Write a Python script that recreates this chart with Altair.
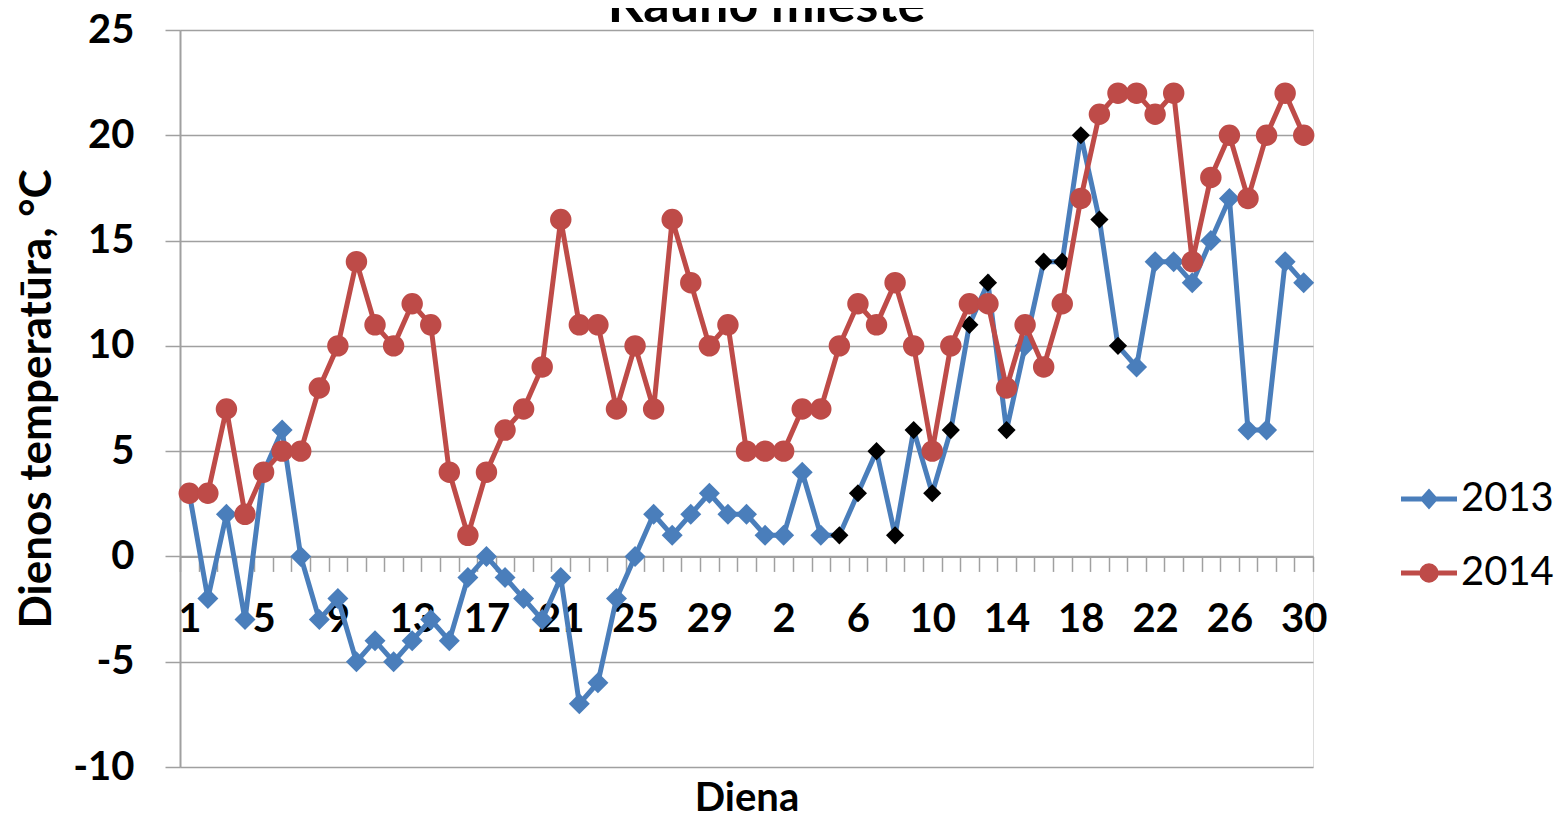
import json
import altair as alt
import pandas as pd

# ---------------- data ----------------
march_days = [str(d) for d in range(1, 32)]
april_days = [str(d) for d in range(1, 31)]
day_labels = march_days + april_days          # 61 categories (Mar 1 .. Apr 30)

series_names = ["2013", "2014"]

temps_2013 = [3, -2, 2, -3, 4, 6, 0, -3, -2, -5, -4, -5, -4, -3, -4, -1, 0, -1, -2, -3,
              -1, -7, -6, -2, 0, 2, 1, 2, 3, 2, 2,
              1, 1, 4, 1, 1, 3, 5, 1, 6, 3, 6, 11, 13, 6, 10, 14, 14, 20, 16, 10,
              9, 14, 14, 13, 15, 17, 6, 6, 14, 13]
temps_2014 = [3, 3, 7, 2, 4, 5, 5, 8, 10, 14, 11, 10, 12, 11, 4, 1, 4, 6, 7, 9,
              16, 11, 11, 7, 10, 7, 16, 13, 10, 11, 5,
              5, 5, 7, 7, 10, 12, 11, 13, 10, 5, 10, 12, 12, 8, 11, 9, 12, 17, 21, 22,
              22, 21, 22, 14, 18, 20, 17, 20, 22, 20]

# April days of 2013 whose markers are drawn black in the original
black_april_days_2013 = ["5", "6", "7", "8", "9", "10", "11", "12", "13", "14",
                         "16", "17", "18", "19", "20"]

y_ticks = [-10, -5, 0, 5, 10, 15, 20, 25]

# ---------------- table ----------------
rows = []
for i, lab in enumerate(day_labels):
    month = "03" if i < len(march_days) else "04"
    black = month == "04" and lab in black_april_days_2013
    rows.append({"idx": i, "series": "2013", "value": temps_2013[i], "black": black})
    rows.append({"idx": i, "series": "2014", "value": temps_2014[i], "black": False})
df = pd.DataFrame(rows)

# ---------------- style ----------------
W, H = 1133, 737
FONT = "Lato"
BLUE = "#4A7EBB"
RED = "#BE4B48"
GRAY = "#A0A0A0"
n = len(day_labels)
band = W / n
y_min, y_max = y_ticks[0], y_ticks[-1]
zero_offset = -H * (0 - y_min) / (y_max - y_min)

labels_js = json.dumps([lab if i % 4 == 0 else "" for i, lab in enumerate(day_labels)])
label_expr = f"(datum.value + 0.5) < {n} ? {labels_js}[datum.value + 0.5] : ''"

x_enc = alt.X(
    "idx:Q",
    scale=alt.Scale(domain=[-0.5, n - 0.5], nice=False, zero=False),
    axis=alt.Axis(
        values=[i - 0.5 for i in range(n + 1)],
        labelExpr=label_expr,
        labelOffset=band / 2,
        labelFlush=False,
        labelOverlap=False,
        labelFont=FONT, labelFontSize=40, labelFontWeight="bold", labelColor="black",
        labelPadding=28,
        tickSize=15, tickColor=GRAY, tickWidth=1.5,
        domainColor=GRAY, domainWidth=2,
        grid=False,
        offset=zero_offset,
        title="Diena",
        titleFont=FONT, titleFontSize=40, titleFontWeight="bold", titleColor="black",
        titleY=254, titleBaseline="alphabetic",
    ),
)
y_enc = alt.Y(
    "value:Q",
    scale=alt.Scale(domain=[y_min, y_max], nice=False, zero=False),
    axis=alt.Axis(
        values=y_ticks,
        labelExpr="'' + datum.value",
        grid=True, gridColor=GRAY, gridWidth=1.5,
        domainColor=GRAY, domainWidth=2,
        tickSize=15, tickColor=GRAY, tickWidth=1.5,
        labelFont=FONT, labelFontSize=40, labelFontWeight="bold", labelColor="black",
        labelPadding=31,
        title="Dienos temperatūra, °C",
        titleFont=FONT, titleFontSize=44, titleFontWeight="bold", titleColor="black",
        titleX=-130, titleY=H / 2, titleAngle=270, titleAlign="center",
        titleBaseline="alphabetic",
    ),
)

base = alt.Chart(df).encode(x=x_enc, y=y_enc)

s13 = base.transform_filter("datum.series == '2013'")
s14 = base.transform_filter("datum.series == '2014'")

line13 = s13.mark_line(color=BLUE, strokeWidth=5)
pts13 = s13.transform_filter("!datum.black").mark_point(
    filled=True, shape="diamond", size=441, color=BLUE, opacity=1)
blk13 = s13.transform_filter("datum.black").mark_point(
    filled=True, shape="diamond", size=330, color="black", opacity=1)
line14 = s14.mark_line(color=RED, strokeWidth=5)
pts14 = s14.mark_point(filled=True, shape="circle", size=460, color=RED, opacity=1)

legend = alt.Legend(
    orient="none", legendX=1229, legendY=449, title=None, padding=0,
    labelFont=FONT, labelFontSize=40, labelColor="black", labelOffset=12,
    rowPadding=34, symbolSize=256, symbolStrokeWidth=5, symbolOpacity=1,
)
sym_paths = [
    "M-3.5,0L3.5,0M-0.75,0L0,-0.85L0.75,0L0,0.85Z",
    "M-3.5,0L3.5,0M-0.9,0A0.9,0.9 0 1,0 0.9,0A0.9,0.9 0 1,0 -0.9,0Z",
]
legend_layer = base.transform_filter("false").mark_point(filled=True, opacity=1).encode(
    fill=alt.Fill("series:N", scale=alt.Scale(domain=series_names, range=[BLUE, RED]), legend=legend),
    stroke=alt.Stroke("series:N", scale=alt.Scale(domain=series_names, range=[BLUE, RED]), legend=legend),
    shape=alt.Shape("series:N", scale=alt.Scale(domain=series_names, range=sym_paths), legend=legend),
)

chart = alt.layer(line13, pts13, blk13, line14, pts14, legend_layer).properties(
    width=W, height=H,
    title=alt.TitleParams(
        "Kauno mieste", font=FONT, fontSize=52, fontWeight="bold", color="black",
        anchor="middle", frame="group", offset=0, dx=20, dy=64, baseline="alphabetic",
    ),
    autosize=alt.AutoSizeParams(type="none"),
    padding={"left": 172, "top": 22, "right": 245, "bottom": 50},
).configure_view(stroke=None).configure(background="white")

chart.save("out.html", embed_options={"renderer": "svg", "actions": False})
